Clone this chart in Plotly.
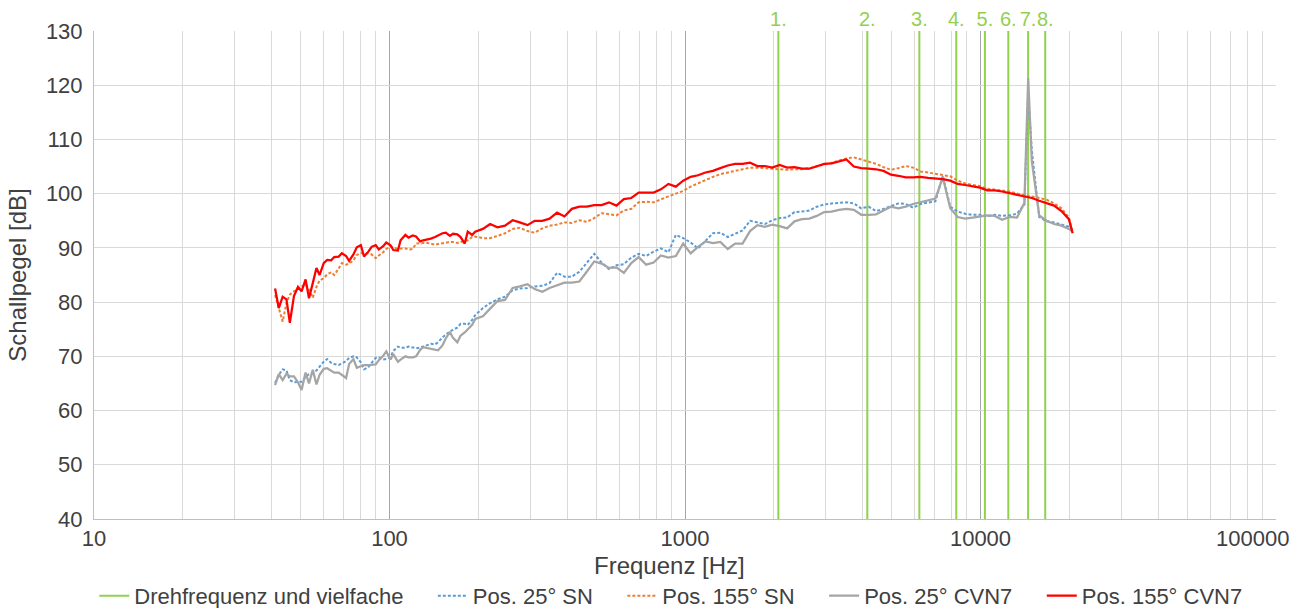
import plotly.graph_objects as go

# Frequency grid [Hz]
freq_hz = [41.0, 42.2, 43.5, 44.8, 46.0, 47.5, 49.0, 50.4, 52.0, 53.4,
           55.0, 56.6, 58.0, 59.9, 61.5, 63.5, 65.0, 67.3, 69.0, 71.3,
           73.0, 75.5, 77.5, 80.0, 82.0, 84.8, 87.0, 89.8, 92.0, 95.2,
           97.5, 100.8, 103, 106.8, 109, 113.2, 116, 119.9, 123, 127,
           130, 134.6, 138, 142.6, 146, 151.1, 155, 160.1, 164, 169.6,
           174, 179.7, 184, 190.4, 195,
           207, 219, 232, 246, 261, 276, 293, 310, 329, 348,
           369, 391, 414, 439, 465, 493, 522, 553, 586, 621,
           658, 697, 739, 783, 829, 879, 931, 986, 1045, 1107,
           1173, 1243, 1317, 1395, 1478, 1566, 1660, 1758, 1863, 1974,
           2091, 2216, 2347, 2487, 2635, 2792, 2958, 3134, 3320, 3518,
           3727, 3949, 4184, 4433, 4696, 4976, 5272, 5585, 5918, 6270,
           6643, 7038, 7456, 7900, 8370, 8868, 9395, 9954, 10546, 11173,
           11838, 12542, 13288, 14078, 14500, 14915, 15802, 16742, 17737, 18792,
           19910, 20500]

pos25_sn = [65.1, 66.6, 67.6, 67.4, 65.6, 65.2, 65.3, 65.3, 66.2, 66.7,
            67.0, 67.4, 68.1, 69.0, 69.5, 68.8, 68.6, 68.4, 68.7, 69.1,
            69.7, 70.0, 69.8, 68.9, 67.6, 68.0, 68.8, 69.7, 69.8, 69.4,
            69.5, 69.8, 71.0, 71.8, 71.6, 71.6, 71.8, 71.7, 71.5, 71.6,
            71.8, 72.2, 72.3, 72.2, 72.6, 73.5, 74.0, 74.6, 74.9, 75.3,
            76.0, 76.0, 75.8, 76.7, 77.6,
            78.9, 79.8, 80.5, 81.0, 82.2, 82.5, 82.6, 82.9, 83.0, 83.5,
            85.4, 84.7, 84.7, 85.6, 87.2, 88.9, 87.3, 86.1, 86.8, 87.0,
            88.2, 88.9, 88.5, 89.3, 89.9, 89.2, 92.4, 91.8, 91.0, 89.9,
            91.3, 92.7, 92.8, 92.0, 92.6, 93.2, 95.0, 94.7, 94.4, 95.1,
            95.5, 95.6, 96.6, 96.7, 96.9, 97.6, 98.0, 98.2, 98.3, 98.4,
            98.2, 97.3, 97.6, 96.8, 97.2, 97.7, 98.2, 98.1, 97.4, 98.1,
            98.4, 98.6, 103.3, 97.6, 96.7, 96.3, 96.1, 96.1, 95.8, 96.1,
            95.9, 96.0, 96.3, 98.0, 118.5, 108.0, 95.7, 94.9, 94.7, 94.3,
            93.9, 93.0]

pos155_sn = [81.3, 79.0, 76.4, 79.8, 81.4, 82.0, 82.4, 82.8, 83.3, 82.3,
             80.8, 82.8, 84.0, 84.4, 85.1, 85.5, 85.0, 86.2, 87.2, 86.9,
             87.1, 87.7, 88.7, 89.0, 89.0, 89.0, 88.8, 88.1, 88.6, 89.2,
             89.8, 90.2, 90.1, 89.8, 89.9, 89.9, 89.7, 89.8, 90.8, 90.9,
             90.9, 90.9, 90.8, 90.6, 90.7, 90.9, 91.0, 91.1, 91.1, 90.9,
             91.1, 91.3, 91.4, 92.0, 92.1,
             91.8, 91.8, 92.2, 92.7, 93.5, 93.7, 93.1, 92.8, 93.6, 94.1,
             94.3, 94.7, 94.6, 95.1, 94.8, 95.5, 96.4, 96.2, 96.0, 96.9,
             97.2, 98.4, 98.5, 98.4, 99.0, 99.5, 100.0, 100.5, 101.3, 101.9,
             102.6, 103.1, 103.6, 103.9, 104.1, 104.4, 104.8, 104.8, 104.7, 104.5,
             104.5, 104.4, 104.5, 104.5, 104.7, 105.0, 105.3, 105.7, 106.1, 106.5,
             106.7, 106.3, 105.8, 105.5, 104.9, 104.4, 104.7, 105.1, 104.8, 104.1,
             103.9, 103.7, 103.5, 103.2, 102.4, 101.9, 101.6, 101.4, 100.9, 100.8,
             100.6, 100.4, 100.0, 99.7, 99.6, 99.5, 99.2, 98.9, 98.2, 97.3,
             95.6, 93.0]

pos25_cvn7 = [64.7, 66.7, 65.6, 66.8, 66.3, 66.3, 65.2, 63.8, 67.0, 65.0,
              67.5, 64.8, 66.6, 67.7, 67.8, 67.4, 67.0, 67.0, 66.6, 66.0,
              68.6, 69.5, 67.9, 68.2, 68.4, 68.4, 68.4, 68.5, 69.3, 70.1,
              70.9, 69.4, 70.4, 69.0, 69.4, 70.0, 69.8, 69.8, 70.0, 71.2,
              71.7, 71.5, 71.4, 71.3, 71.1, 72.0, 73.3, 74.5, 73.4, 72.6,
              73.8, 74.4, 75.0, 75.8, 76.9,
              77.4, 78.8, 80.2, 80.4, 82.6, 82.9, 83.3, 82.4, 81.9, 82.6,
              83.1, 83.6, 83.6, 83.8, 85.6, 87.5, 87.1, 86.3, 86.4, 85.4,
              87.2, 88.3, 86.9, 87.3, 88.6, 88.2, 88.5, 90.8, 89.0, 90.2,
              91.2, 90.9, 91.1, 89.8, 90.8, 90.8, 93.1, 94.2, 93.9, 94.3,
              94.0, 93.6, 94.9, 95.3, 95.4, 95.9, 96.6, 96.7, 97.0, 97.2,
              97.0, 96.1, 96.1, 96.2, 96.9, 97.6, 97.3, 97.6, 98.1, 98.4,
              98.7, 99.1, 103.0, 97.3, 95.7, 95.4, 95.6, 95.8, 96.0, 95.9,
              95.2, 95.7, 95.6, 98.3, 121.3, 106.0, 96.0, 95.0, 94.4, 94.1,
              93.5, 93.0]

pos155_cvn7 = [82.5, 78.9, 81.0, 80.5, 76.2, 81.1, 82.8, 82.0, 84.2, 80.7,
               83.5, 86.3, 85.0, 87.2, 87.8, 87.7, 88.3, 88.4, 89.0, 88.5,
               87.6, 88.8, 90.1, 90.5, 88.4, 89.3, 90.2, 90.5, 89.7, 90.3,
               91.0, 90.5, 89.6, 89.5, 91.4, 92.4, 91.9, 92.3, 92.1, 91.2,
               91.4, 91.5, 91.7, 92.0, 92.3, 92.7, 92.8, 92.2, 92.6, 92.5,
               92.0, 90.8, 93.0, 92.4, 93.0,
               93.5, 94.4, 93.8, 94.1, 95.1, 94.7, 94.2, 95.0, 95.0, 95.4,
               96.5, 95.8, 97.2, 97.6, 97.6, 97.9, 97.9, 98.4, 97.8, 99.0,
               99.2, 100.2, 100.2, 100.2, 100.8, 101.8, 101.3, 102.4, 103.1, 103.4,
               103.9, 104.2, 104.7, 105.2, 105.5, 105.5, 105.7, 105.1, 105.1, 104.8,
               105.3, 104.8, 104.9, 104.6, 104.6, 105.0, 105.5, 105.6, 105.9, 106.3,
               105.0, 104.7, 104.6, 104.5, 104.2, 103.5, 103.3, 103.0, 103.0, 103.1,
               102.9, 102.8, 102.7, 102.4, 101.8, 101.6, 101.4, 101.1, 100.6, 100.6,
               100.4, 100.1, 99.7, 99.4, 99.3, 99.2, 98.7, 98.3, 97.8, 96.8,
               95.3, 92.7]

# Rotational frequency and multiples [Hz]
rotor_freq_hz = [2070, 4140, 6210, 8280, 10350, 12420, 14490, 16560]
rotor_labels = ["1.", "2.", "3.", "4.", "5.", "6.", "7.", "8."]

# Axis ticks (last decade label is placed as an annotation so it stays inside the page)
x_major_ticks = [10, 100, 1000, 10000, 100000]
x_major_text = ["10", "100", "1000", "10000", ""]
x_last_label = "100000"
x_minor_ticks = [m * d for d in (10, 100, 1000, 10000) for m in range(2, 10)]
x_title = "Frequenz [Hz]"
y_title = "Schallpegel [dB]"

y_min, y_max = 40, 130

FONT = "Liberation Sans, Arial, sans-serif"
TXT = "#404040"
GAP = "\u00a0" * 4

fig = go.Figure()

gx, gy = [], []
for f in rotor_freq_hz:
    gx += [f, f, None]
    gy += [y_min, y_max, None]
fig.add_trace(go.Scatter(x=gx, y=gy, mode="lines", name="Drehfrequenz und vielfache" + GAP,
                         line=dict(color="#92D050", width=2)))
fig.add_trace(go.Scatter(x=freq_hz, y=pos25_sn, mode="lines", name="Pos. 25° SN" + GAP,
                         line=dict(color="#5B9BD5", width=2, dash="3px,2px")))
fig.add_trace(go.Scatter(x=freq_hz, y=pos155_sn, mode="lines", name="Pos. 155° SN" + GAP,
                         line=dict(color="#ED7D31", width=2, dash="3px,2px")))
fig.add_trace(go.Scatter(x=freq_hz, y=pos25_cvn7, mode="lines", name="Pos. 25° CVN7" + GAP,
                         line=dict(color="#A5A5A5", width=2.25)))
fig.add_trace(go.Scatter(x=freq_hz, y=pos155_cvn7, mode="lines", name="Pos. 155° CVN7",
                         line=dict(color="#FF0000", width=2.25)))
fig.add_trace(go.Scatter(x=rotor_freq_hz, y=[y_max] * len(rotor_freq_hz), mode="text",
                         text=rotor_labels, textposition="top center", cliponaxis=False,
                         textfont=dict(color="#92D050", size=20, family=FONT),
                         showlegend=False, hoverinfo="skip"))

fig.add_annotation(text=x_last_label, xref="paper", x=1, xanchor="right", xshift=15,
                   yref="paper", y=0, yanchor="top", yshift=-5, showarrow=False,
                   font=dict(size=22, color=TXT, family=FONT))
fig.add_annotation(text=x_title, xref="paper", x=0.487, xanchor="center",
                   yref="paper", y=0, yanchor="top", yshift=-31, showarrow=False,
                   font=dict(size=24, color=TXT, family=FONT))

fig.update_layout(
    width=1296, height=608,
    margin=dict(l=94, r=20, t=31, b=89, autoexpand=False),
    paper_bgcolor="white", plot_bgcolor="white",
    font=dict(family=FONT, size=22, color=TXT),
    showlegend=True,
    legend=dict(orientation="h", x=0.488, xanchor="center",
                yref="container", y=0.02, yanchor="middle",
                font=dict(size=22, color=TXT), itemwidth=30, tracegroupgap=0),
    xaxis=dict(type="log", range=[1, 5], tickmode="array",
               tickvals=x_major_ticks, ticktext=x_major_text,
               showgrid=True, gridcolor="#A6A6A6", gridwidth=1,
               minor=dict(tickmode="array", tickvals=x_minor_ticks, showgrid=True,
                          gridcolor="#D9D9D9", gridwidth=1),
               showline=True, linecolor="#BFBFBF", linewidth=1, mirror=False,
               ticks="", zeroline=False, ticklabelstandoff=0, automargin=False,
               tickfont=dict(size=22, color=TXT)),
    yaxis=dict(range=[y_min, y_max], dtick=10, showgrid=True, gridcolor="#D9D9D9",
               gridwidth=1, showline=True, linecolor="#BFBFBF", linewidth=1,
               ticks="", zeroline=False, ticklabelstandoff=6, automargin=False,
               title=dict(text=y_title, standoff=12, font=dict(size=24, color=TXT)),
               tickfont=dict(size=22, color=TXT)),
)

fig.write_html("out.html")
